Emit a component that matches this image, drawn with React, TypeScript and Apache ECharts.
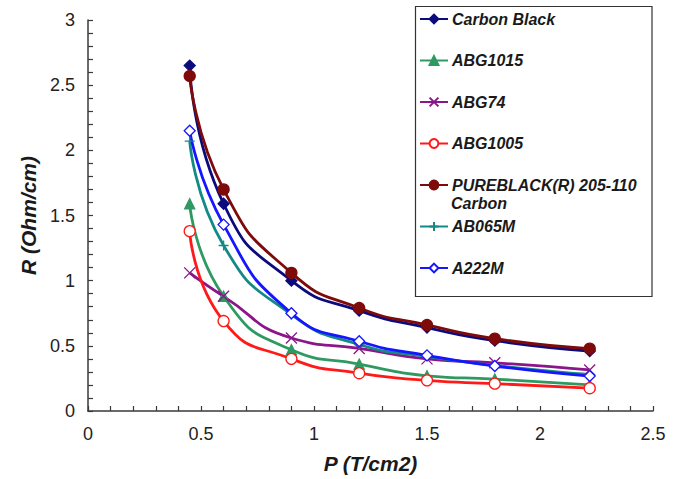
import React, { useEffect, useRef } from "react";
import * as echarts from "echarts";

const pressure = [0.45, 0.6, 0.9, 1.2, 1.5, 1.8, 2.22];
const carbonBlack = [2.65, 1.59, 1.0, 0.77, 0.64, 0.54, 0.46];
const abg1015 = [1.59, 0.88, 0.47, 0.36, 0.27, 0.245, 0.2];
const abg74 = [1.06, 0.88, 0.56, 0.48, 0.4, 0.37, 0.315];
const abg1005 = [1.38, 0.69, 0.4, 0.29, 0.235, 0.21, 0.175];
const pureblack = [2.57, 1.7, 1.06, 0.79, 0.66, 0.555, 0.478];
const ab065m = [2.07, 1.27, 0.74, 0.51, 0.42, 0.35, 0.28];
const a222m = [2.15, 1.43, 0.75, 0.535, 0.427, 0.345, 0.268];

const seriesNames = [
  "Carbon Black",
  "ABG1015",
  "ABG74",
  "ABG1005",
  "PUREBLACK(R) 205-110 Carbon",
  "AB065M",
  "A222M",
];
const seriesValues = [carbonBlack, abg1015, abg74, abg1005, pureblack, ab065m, a222m];
const seriesColors = ["#0b0b7e", "#2e9a62", "#8a168a", "#ff1a1a", "#7e0a0a", "#138a86", "#1515ff"];
const seriesSymbols = [
  "diamond",
  "triangle",
  "path://M0,0L10,10M10,0L0,10",
  "circle",
  "circle",
  "path://M5,0L5,10M0,5L10,5",
  "diamond",
];
const seriesFilled = [true, true, true, false, true, true, false];
const seriesSymbolSizes = [11, 10, 11, 11, 11, 10, 11];

const FONT = "'Liberation Sans', Arial, sans-serif";

export default function App() {
  const ref = useRef<HTMLDivElement>(null);
  useEffect(() => {
    if (!ref.current) return;
    const chart = echarts.init(ref.current, undefined, { renderer: "svg" });
    const series = seriesNames.map((name, i) => ({
      name,
      type: "line",
      smooth: 0.55,
      data: pressure.map((p, j) => [p, seriesValues[i][j]]),
      symbol: seriesSymbols[i],
      symbolSize: seriesSymbolSizes[i],
      lineStyle: { color: seriesColors[i], width: 2.8 },
      itemStyle: {
        color: seriesFilled[i] ? seriesColors[i] : "#ffffff",
        borderColor: seriesColors[i],
        borderWidth: 1.3,
      },
      emphasis: { disabled: true },
    }));
    chart.setOption({
      animation: false,
      textStyle: { fontFamily: FONT },
      grid: { left: 88, right: 25, top: 20, bottom: 67.3, containLabel: false },
      xAxis: {
        type: "value",
        min: 0,
        max: 2.5,
        interval: 0.5,
        name: "P (T/cm2)",
        nameLocation: "middle",
        nameGap: 42,
        nameTextStyle: { fontSize: 21, fontWeight: "bold", fontStyle: "italic", color: "#1a1a1a", fontFamily: FONT },
        axisLine: { show: true, lineStyle: { color: "#3a3a3a", width: 1.5 } },
        axisTick: { show: true, inside: true, length: 5, lineStyle: { color: "#3a3a3a", width: 1.2 } },
        minorTick: { show: true, splitNumber: 5, length: 5, lineStyle: { color: "#3a3a3a", width: 1.2 } },
        splitLine: { show: false },
        minorSplitLine: { show: false },
        axisLabel: { fontSize: 18, color: "#222", margin: 14, fontFamily: FONT },
      },
      yAxis: {
        type: "value",
        min: 0,
        max: 3,
        interval: 0.5,
        name: "R (Ohm/cm)",
        nameLocation: "middle",
        nameGap: 48,
        nameTextStyle: { fontSize: 21, fontWeight: "bold", fontStyle: "italic", color: "#1a1a1a", fontFamily: FONT },
        axisLine: { show: true, lineStyle: { color: "#3a3a3a", width: 1.5 } },
        axisTick: { show: true, inside: true, length: 5, lineStyle: { color: "#3a3a3a", width: 1.2 } },
        minorTick: { show: true, splitNumber: 5, length: 5, lineStyle: { color: "#3a3a3a", width: 1.2 } },
        splitLine: { show: false },
        minorSplitLine: { show: false },
        axisLabel: { fontSize: 18, color: "#222", margin: 13, fontFamily: FONT },
      },
      legend: {
        orient: "vertical",
        left: 415,
        top: 6,
        padding: [4, 6, 18, 4],
        itemGap: 23.5,
        itemWidth: 28,
        itemHeight: 11,
        selectedMode: false,
        formatter: (n: string) => (n.startsWith("PUREBLACK") ? "PUREBLACK(R) 205-110" : n),
        textStyle: {
          fontSize: 16,
          fontWeight: "bold",
          fontStyle: "italic",
          color: "#1a1a1a",
          fontFamily: FONT,
          lineHeight: 18,
          padding: [0, 0, 0, -1],
        },
        data: seriesNames,
      },
      graphic: [
        {
          type: "rect",
          shape: { x: 415.5, y: 6.5, width: 236.5, height: 290 },
          style: { fill: "none", stroke: "#333", lineWidth: 1.2 },
          silent: true,
        },
        {
          type: "text",
          x: 451,
          y: 203,
          style: {
            text: "Carbon",
            font: `italic bold 16px ${FONT}`,
            fill: "#1a1a1a",
            verticalAlign: "middle",
          },
          silent: true,
        },
      ],
      series,
    });
    return () => chart.dispose();
  }, []);
  return (
    <div
      ref={ref}
      style={{ position: "absolute", left: 0, top: 0, width: 678, height: 479, background: "#fff" }}
    />
  );
}
